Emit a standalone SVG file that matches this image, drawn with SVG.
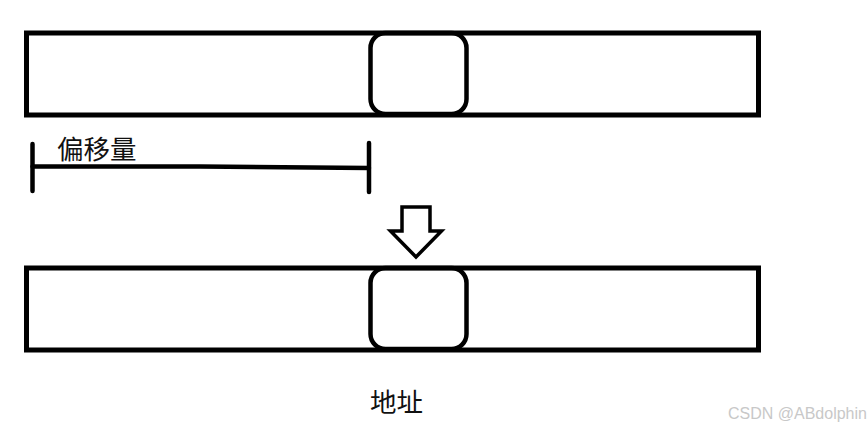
<svg xmlns="http://www.w3.org/2000/svg" width="868" height="429" viewBox="0 0 868 429">
<style>
.box{fill:none;stroke:#000;stroke-width:5}
.cell{fill:none;stroke:#000;stroke-width:4.5}
.ln{fill:none;stroke:#000;stroke-width:4.5;stroke-linecap:round}
.lbl{font-family:"Noto Sans CJK SC","Liberation Sans",sans-serif;fill:#111}
</style>
<rect width="868" height="429" fill="#fff"/>
<g id="top-memory">
<rect class="box" x="26.5" y="33" width="732" height="82"/>
<rect class="cell" x="370.5" y="33" width="96" height="81" rx="15"/>
</g>
<g id="offset">
<path class="ln" d="M32.5 144 V191"/>
<path class="ln" d="M369 143 V192"/>
<path class="ln" d="M32.5 166.5 H200 L369 168"/>
<text class="lbl" x="57" y="159" font-size="26.5" fill="#222">偏移量</text>
</g>
<g id="arrow">
<path d="M402 207 H430 V231 H441.5 L416 257 L390.5 231 H402 Z" fill="#fff" stroke="#000" stroke-width="3.5" stroke-linejoin="miter"/>
</g>
<g id="bottom-memory">
<rect class="box" x="26.5" y="268" width="732" height="82"/>
<rect class="cell" x="370.5" y="268" width="96" height="81" rx="15"/>
</g>
<g id="address">
<text class="lbl" x="370" y="412" font-size="26.5">地址</text>
</g>
<text x="728" y="419" font-family="Liberation Sans,Arial,sans-serif" font-size="16" fill="#c8c8c8">CSDN @ABdolphin</text>
</svg>
